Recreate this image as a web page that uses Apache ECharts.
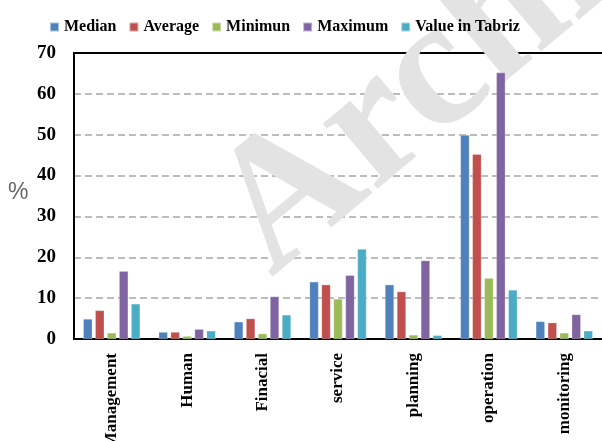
<!DOCTYPE html>
<html>
<head>
<meta charset="utf-8">
<script src="https://cdn.jsdelivr.net/npm/echarts@6/dist/echarts.min.js"></script>
<style>html,body{margin:0;padding:0;background:#fff}#c{width:602px;height:441px}</style>
</head>
<body>
<div id="c"></div>
<script>
var categories = ['Management', 'Human', 'Finacial', 'service', 'planning', 'operation', 'monitoring'];
var seriesNames = ['Median', 'Average', 'Minimun', 'Maximum', 'Value in Tabriz'];
var median  = [4.9, 1.7, 4.2, 14.0, 13.3, 49.9, 4.3];
var average = [7.0, 1.7, 5.0, 13.3, 11.6, 45.2, 4.0];
var minimum = [1.5, 0.7, 1.3, 9.8, 1.0, 14.9, 1.5];
var maximum = [16.6, 2.4, 10.4, 15.6, 19.2, 65.2, 6.0];
var tabriz  = [8.6, 2.0, 5.9, 22.0, 0.9, 12.0, 2.0];
var yTicks = [0, 10, 20, 30, 40, 50, 60, 70];
var colors = ['#4F81BD', '#C0504D', '#9BBB59', '#8064A2', '#4BACC6'];

var serif = '"Liberation Serif", "DejaVu Serif", serif';
var values = [median, average, minimum, maximum, tabriz];
var chart = echarts.init(document.getElementById('c'));
chart.setOption({
  animation: false,
  color: colors,
  legend: {
    top: 14, left: 44,
    itemWidth: 9, itemHeight: 9, itemGap: 12,
    icon: 'rect',
    textStyle: { fontFamily: serif, fontWeight: 'bold', fontSize: 16, color: '#000' },
    data: seriesNames
  },
  graphic: [
    { type: 'text', left: 8, top: 181, z: 5,
      style: { text: '%', fontFamily: '"Liberation Sans", Arial, sans-serif', fontSize: 23, fill: '#666' } },
    { type: 'text', x: 300, y: 312, rotation: 40 * Math.PI / 180, z: 1, silent: true,
      style: { text: 'Archive', fontFamily: serif, fontWeight: 'bold', fontSize: 185,
               fill: '#e3e3e3', textAlign: 'left', textVerticalAlign: 'bottom' } }
  ],
  grid: { left: 74, right: 0, top: 53, bottom: 102, outerBoundsMode: 'none', containLabel: false },
  xAxis: [
    { type: 'category', data: categories, position: 'bottom',
      axisLine: { lineStyle: { color: '#000', width: 2 } },
      axisTick: { show: false },
      axisLabel: { rotate: 90, margin: 14, fontFamily: serif, fontWeight: 'bold', fontSize: 17, color: '#000', interval: 0 } },
    { type: 'category', data: categories, position: 'top',
      axisLine: { show: true, lineStyle: { color: '#000', width: 2 } },
      axisTick: { show: false }, axisLabel: { show: false } }
  ],
  yAxis: {
    type: 'value', min: yTicks[0], max: yTicks[yTicks.length - 1], interval: 10,
    axisLine: { show: true, lineStyle: { color: '#000', width: 2 } },
    axisTick: { show: false },
    axisLabel: { margin: 18, fontFamily: serif, fontWeight: 'bold', fontSize: 19, color: '#000' },
    splitLine: { lineStyle: { color: '#a6a6a6', width: 1.5, type: [7, 4] } }
  },
  series: seriesNames.map(function (n, i) {
    return { name: n, type: 'bar', data: values[i], barWidth: 9, barGap: '33%', z: 2,
             itemStyle: { borderColor: 'rgba(255,255,255,0.5)', borderWidth: 0.5 } };
  })
});
</script>
</body>
</html>
